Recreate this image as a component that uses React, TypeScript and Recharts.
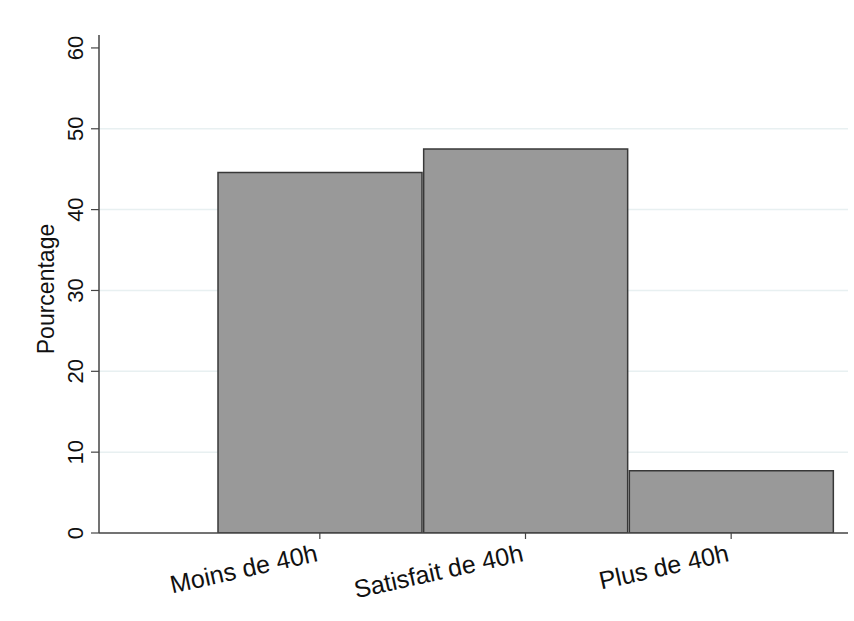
import React from "react";
import { BarChart, Bar, XAxis, YAxis, CartesianGrid } from "recharts";

const categories = ["Moins de 40h", "Satisfait de 40h", "Plus de 40h"];
const percentages = [44.6, 47.5, 7.7];
const yTicks = [0, 10, 20, 30, 40, 50, 60];

const data = categories.map((name, i) => ({ name, value: percentages[i] }));

const FONT = "Liberation Sans, Arial, Helvetica, sans-serif";

const XTick = (props: any) => {
  const { x, y, payload } = props;
  const ax = x - 1;
  const ay = y + 20;
  return (
    <text
      x={ax}
      y={ay}
      textAnchor="end"
      fontSize={25}
      fontFamily={FONT}
      fill="#111"
      transform={`rotate(-12.5 ${ax} ${ay})`}
    >
      {payload.value}
    </text>
  );
};

const YTick = (props: any) => {
  const { y, payload } = props;
  const ax = 83;
  return (
    <text
      x={ax}
      y={y}
      textAnchor="middle"
      fontSize={22}
      fontFamily={FONT}
      fill="#111"
      transform={`rotate(-90 ${ax} ${y})`}
    >
      {payload.value}
    </text>
  );
};

export default function App() {
  return (
    <div style={{ position: "absolute", left: 0, top: 0, width: 854, height: 621, background: "#fff" }}>
      <BarChart
        width={854}
        height={621}
        data={data}
        margin={{ top: 35, right: 6, left: 39, bottom: 28 }}
        barCategoryGap={1}
      >
        <CartesianGrid
          vertical={false}
          stroke="#e8f0f1"
          strokeWidth={1.5}
          horizontalValues={[10, 20, 30, 40, 50]}
        />
        <XAxis
          dataKey="name"
          type="category"
          padding={{ left: 118, right: 14 }}
          height={60}
          axisLine={{ stroke: "#444", strokeWidth: 1.5 }}
          tickLine={{ stroke: "#444", strokeWidth: 1.2 }}
          tickSize={6}
          tickMargin={2}
          interval={0}
          tick={<XTick />}
        />
        <YAxis
          type="number"
          domain={[0, 61.6]}
          allowDataOverflow
          ticks={yTicks}
          width={60}
          axisLine={{ stroke: "#444", strokeWidth: 1.5 }}
          tickLine={{ stroke: "#444", strokeWidth: 1.2 }}
          tickSize={8}
          tick={<YTick />}
          label={{
            value: "Pourcentage",
            angle: -90,
            position: "insideLeft",
            content: () => (
              <text
                x={54}
                y={289}
                textAnchor="middle"
                fontSize={23}
                fontFamily={FONT}
                fill="#111"
                transform="rotate(-90 54 289)"
              >
                Pourcentage
              </text>
            ),
          }}
        />
        <Bar
          dataKey="value"
          fill="#999999"
          stroke="#383838"
          strokeWidth={1.5}
          isAnimationActive={false}
        />
      </BarChart>
    </div>
  );
}
